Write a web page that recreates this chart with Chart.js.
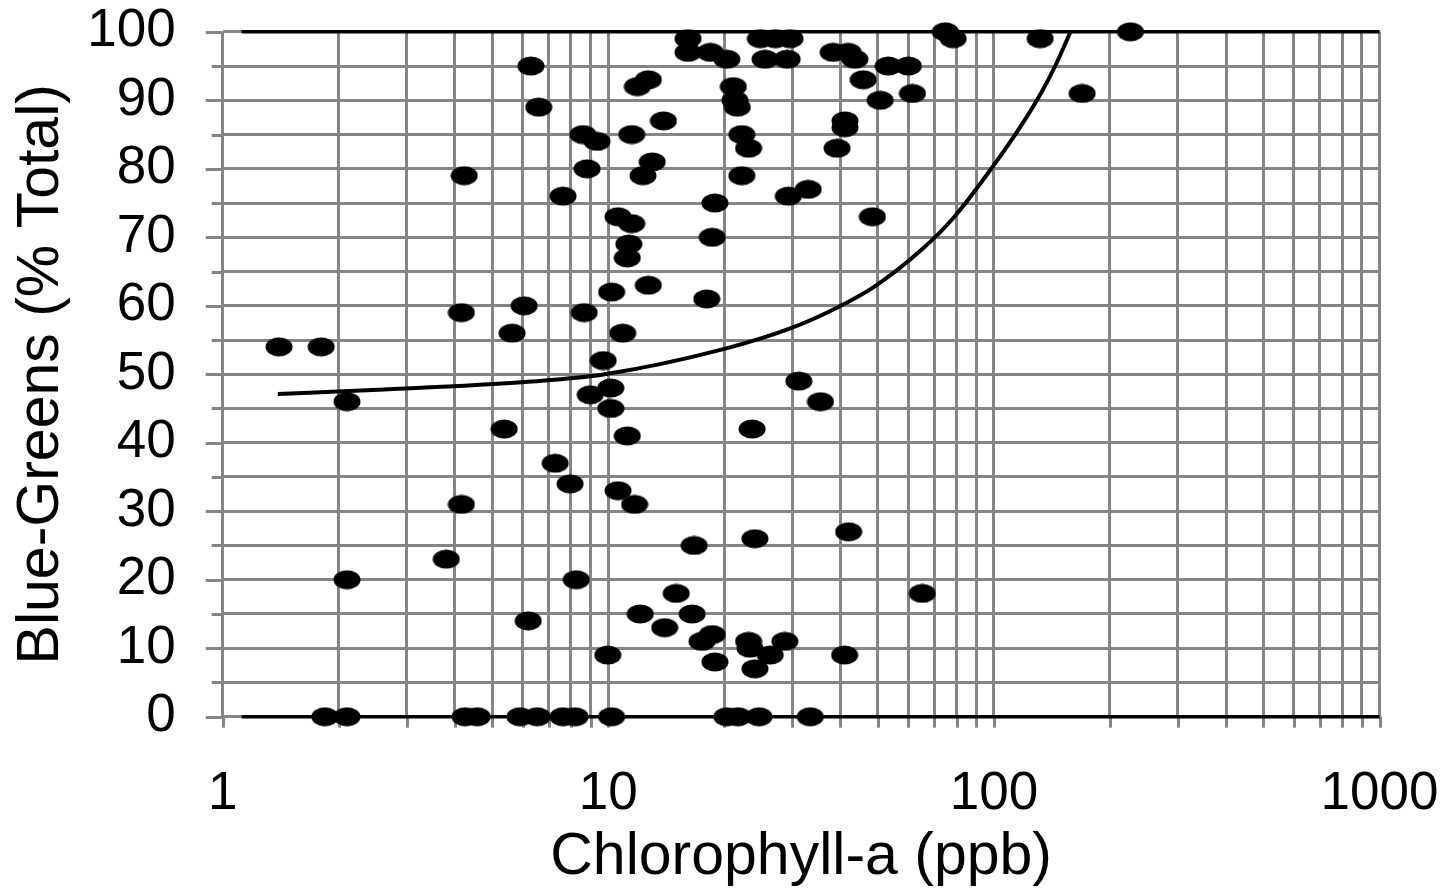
<!DOCTYPE html>
<html>
<head>
<meta charset="utf-8">
<script src="https://cdn.jsdelivr.net/npm/chart.js@4"></script>
<style>
  html, body { margin: 0; padding: 0; background: #fff; }
  canvas { display: block; }
</style>
</head>
<body>
<canvas id="chart" width="1445" height="896"></canvas>
<script>
// ---------- DATA ----------
const chlaPpb = [
  1.84, 2.10, 4.25, 4.57, 5.9, 6.54, 7.63, 8.2, 10.2, 20.3, 21.7, 24.6, 33.4,
  1.40, 1.80, 2.10, 2.10, 3.80, 4.16, 4.16, 4.23, 5.37, 5.63, 6.05, 6.2, 6.3, 6.6,
  7.28, 7.63, 7.96, 8.26, 8.6, 8.66, 8.81, 8.98, 9.35, 9.7, 9.97, 10.15, 10.15,
  10.2, 10.6, 10.6, 10.9, 11.2, 11.3, 11.2, 11.5, 11.5, 11.7, 11.9, 12.1, 12.3,
  12.7, 12.7, 13.0, 13.9, 14.0, 15.0, 16.1, 16.1, 16.5, 16.7, 17.5, 18.0, 18.4,
  18.6, 18.6, 18.9, 18.9, 20.3, 21.1, 21.3, 21.6, 22.2, 22.2, 23.1, 23.1, 23.3,
  23.6, 24.0, 24.0, 24.8, 25.5, 26.3, 27.1, 28.7, 29.1, 29.3, 29.6, 31.2, 33.0,
  35.5, 38.3, 39.2, 41.1, 41.1, 41.0, 42.0, 41.9, 43.6, 45.8, 48.4, 50.7, 53.2,
  60.0, 61.5, 65.2, 74.8, 78.4, 131.8, 169.4, 226
];
const blueGreensPct = [
  0, 0, 0, 0, 0, 0, 0, 0, 0, 0, 0, 0, 0,
  54, 54, 46, 20, 23, 31, 59, 79, 42, 56, 60, 14, 95, 89,
  37, 76, 34, 20, 85, 59, 80, 47, 84, 52, 9, 48, 45,
  62, 73, 33, 56, 41, 69, 67, 72, 85, 31, 92, 15, 79,
  93, 63, 81, 87, 13, 18, 99, 97, 15, 25, 11, 61, 97,
  70, 12, 75, 8, 96, 92, 90, 89, 85, 79, 83, 11, 10,
  42, 26, 7, 99, 96, 9, 99, 11, 96, 76, 99, 49, 77,
  46, 97, 83, 87, 86, 9, 27, 97, 96, 93, 73, 90, 95,
  95, 91, 18, 100, 99, 99, 91, 100
];

// trend line
const trendX = [1.39, 2.44, 6.2, 9.8, 20, 30, 38.8, 49, 65, 79, 99, 118, 133, 145, 158];
const trendY = [47.1, 47.7, 48.9, 50, 53.7, 56.8, 59.6, 62.8, 68.2, 73, 80.2, 86.4, 91.2, 95.3, 100];

// black reference lines at 0 % and 100 %
const refLineX = [1.12, 1000];
const refLow = [0, 0];
const refHigh = [100, 100];

// axis ticks
const xGridValues = [1, 2, 3, 4, 5, 6, 7, 8, 9, 10, 20, 30, 40, 50, 60, 70, 80, 90,
  100, 200, 300, 400, 500, 600, 700, 800, 900, 1000];
const xTickLabels = [1, 10, 100, 1000];
const yMin = 0, yMax = 100, yStep = 5, yLabelStep = 10;

// ---------- STYLE ----------
const GRID = '#858585';
const FONT = '"Liberation Sans", Arial, sans-serif';

const dot = document.createElement('canvas');
dot.width = 28; dot.height = 20;
(() => {
  const c = dot.getContext('2d');
  c.fillStyle = '#000';
  c.beginPath();
  c.ellipse(14, 10, 13.5, 9.5, 0, 0, Math.PI * 2);
  c.fill();
})();

const pairs = (xs, ys) => xs.map((x, i) => ({ x, y: ys[i] }));

// visible tick marks outside the plot: long at labelled values, short elsewhere
const tickMarks = {
  id: 'tickMarks',
  beforeDatasetsDraw(chart) {
    const { ctx, chartArea, scales: { x, y } } = chart;
    ctx.save();
    ctx.strokeStyle = GRID;
    ctx.lineWidth = 3;
    y.ticks.forEach(t => {
      const py = Math.round(y.getPixelForValue(t.value)) + 0.5;
      const len = t.value % yLabelStep === 0 ? 17 : 11;
      ctx.beginPath();
      ctx.moveTo(chartArea.left - len, py);
      ctx.lineTo(chartArea.left, py);
      ctx.stroke();
    });
    x.ticks.forEach(t => {
      const px = Math.round(x.getPixelForValue(t.value)) + 0.5;
      ctx.beginPath();
      ctx.moveTo(px, chartArea.bottom);
      ctx.lineTo(px, chartArea.bottom + 11);
      ctx.stroke();
    });
    ctx.restore();
  }
};

new Chart(document.getElementById('chart'), {
  type: 'scatter',
  data: {
    datasets: [
      {
        data: pairs(chlaPpb, blueGreensPct),
        pointStyle: dot,
        pointRadius: 10,
        showLine: false
      },
      {
        type: 'line',
        data: pairs(trendX, trendY),
        borderColor: '#000',
        borderWidth: 4,
        pointRadius: 0,
        cubicInterpolationMode: 'monotone',
        fill: false
      },
      {
        type: 'line',
        data: pairs(refLineX, refLow),
        borderColor: '#000',
        borderWidth: 3.5,
        pointRadius: 0,
        fill: false
      },
      {
        type: 'line',
        data: pairs(refLineX, refHigh),
        borderColor: '#000',
        borderWidth: 3.5,
        pointRadius: 0,
        fill: false
      }
    ]
  },
  options: {
    responsive: false,
    animation: false,
    clip: false,
    layout: { padding: { left: 0, right: 65.5, top: 30, bottom: 0 } },
    plugins: { legend: { display: false }, tooltip: { enabled: false } },
    scales: {
      x: {
        type: 'logarithmic',
        min: 1,
        max: 1000,
        afterBuildTicks: s => { s.ticks = xGridValues.map(v => ({ value: v })); },
        afterFit: s => { s.height = 179.3; },
        // invisible tick length only pushes the labels down
        grid: { color: GRID, lineWidth: 3, drawTicks: true, tickLength: 46, tickColor: 'rgba(0,0,0,0)' },
        border: { display: false },
        ticks: {
          autoSkip: false,
          maxRotation: 0,
          padding: 0,
          color: '#000',
          font: { family: FONT, size: 53 },
          callback: v => xTickLabels.includes(v) ? String(v) : ''
        },
        title: {
          display: true,
          text: 'Chlorophyll-a (ppb)',
          color: '#000',
          font: { family: FONT, size: 59 },
          padding: { top: 0, bottom: 3 }
        }
      },
      y: {
        min: yMin,
        max: yMax,
        afterFit: s => { s.width = 222.7; },
        grid: { color: GRID, lineWidth: 3, drawTicks: true, tickLength: 47, tickColor: 'rgba(0,0,0,0)' },
        border: { display: false },
        ticks: {
          stepSize: yStep,
          autoSkip: false,
          padding: 0,
          color: '#000',
          font: { family: FONT, size: 53 },
          callback: v => v % yLabelStep === 0 ? String(v) : ''
        },
        title: {
          display: true,
          text: 'Blue-Greens (% Total)',
          color: '#000',
          font: { family: FONT, size: 59 },
          padding: { top: 6, bottom: 0 }
        }
      }
    }
  },
  plugins: [tickMarks]
});
</script>
</body>
</html>
